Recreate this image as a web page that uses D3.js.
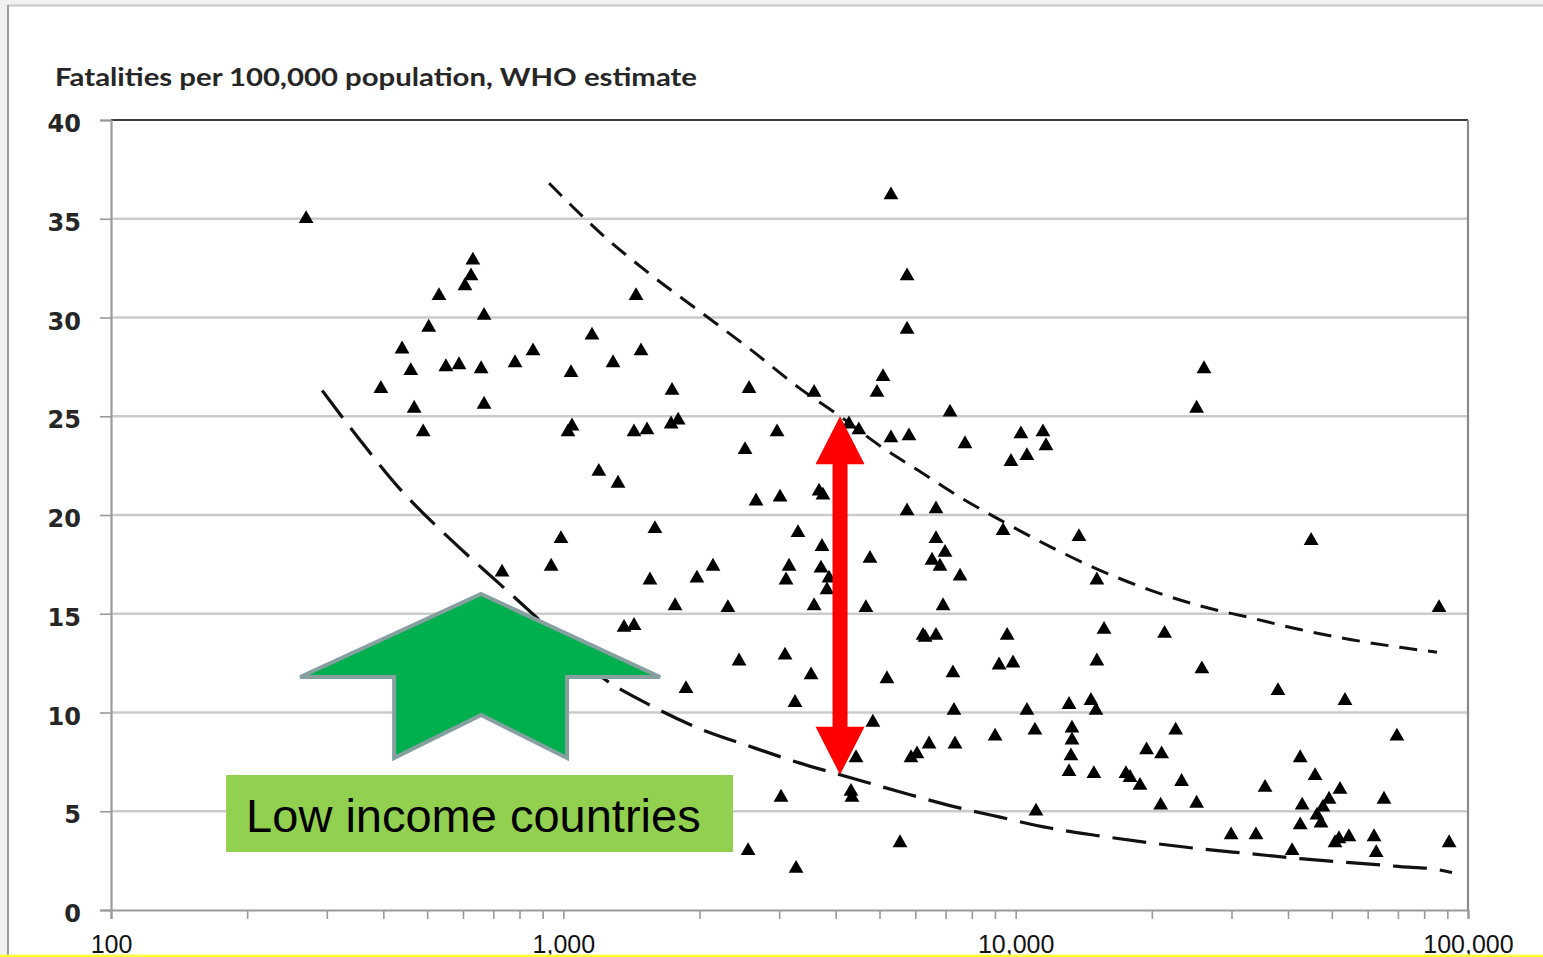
<!DOCTYPE html>
<html>
<head>
<meta charset="utf-8">
<script src="https://cdn.jsdelivr.net/npm/d3@7"></script>
<style>
  html, body { margin: 0; padding: 0; background: #ffffff; }
  svg { display: block; }
</style>
</head>
<body>
<svg id="chart" width="1543" height="957"></svg>
<script>
// GDP per capita (US$, log axis) and road fatalities per 100,000 population
const countryPoints = [
  [270,35.0],[395,26.4],[440,28.4],[460,27.3],[468,25.4],[490,24.2],[504,29.5],[531,31.1],
  [550,27.5],[588,27.6],[606,31.6],[625,32.1],[631,32.9],[658,27.4],[668,30.1],[668,25.6],
  [732,17.1],[782,27.7],[857,28.3],[940,17.4],[988,18.8],[1024,24.2],[1045,24.5],[1040,27.2],
  [1157,29.1],[1198,22.2],[1288,27.7],[1321,21.6],[1362,14.3],[1433,14.4],[1448,31.1],[1485,28.3],
  [1433,24.2],[1531,24.3],[1554,16.7],[1594,19.3],[1739,26.3],[1731,24.6],[1794,24.8],[1766,15.4],
  [1867,11.2],[1974,16.8],[2142,17.4],[2311,15.3],[2446,12.6],[2522,23.3],[2574,26.4],[2561,3.0],
  [2667,20.7],[2968,24.2],[3014,20.9],[3029,5.7],[3091,12.9],[3107,16.7],[3155,17.4],[3252,10.5],
  [3270,2.1],[3302,19.1],[3529,11.9],[3584,15.4],[3584,26.2],[3676,21.2],[3750,21.0],[3731,18.4],
  [3712,17.3],[3827,16.2],[3866,16.8],[4280,24.6],[4500,24.3],[4324,6.0],[4346,5.7],[4437,7.7],
  [4666,15.3],[4763,17.8],[4834,9.5],[4936,26.2],[5090,27.0],[5193,11.7],[5300,23.9],[5300,36.2],
  [5550,3.4],[5753,32.1],[5753,29.4],[5753,20.2],[5809,24.0],[5869,7.7],[6052,7.9],[6240,13.9],
  [6306,13.8],[6434,8.4],[6533,17.7],[6666,18.8],[6666,20.3],[6666,13.9],[6803,17.4],[6909,15.4],
  [6979,18.1],[7159,25.2],[7267,12.0],[7304,10.1],[7341,8.4],[7534,16.9],[7727,23.6],[9005,8.8],
  [9189,12.4],[9379,19.2],[9577,13.9],[9864,12.5],[9763,22.7],[10270,24.1],[10590,23.0],[10590,10.1],
  [11030,9.1],[11090,5.0],[11490,24.2],[11670,23.5],[13120,10.4],[13120,7.0],[13320,9.2],[13320,8.6],
  [13250,7.8],[13800,18.9],[14670,10.6],[14890,6.9],[15050,10.1],[15120,16.7],[15120,12.6],[15680,14.2],
  [17530,6.9],[17900,6.7],[18830,6.3],[19470,8.1],[20920,5.3],[21020,7.9],[21340,14.0],[22580,9.1],
  [23270,6.5],[25120,5.4],[25120,25.4],[25800,12.2],[26080,27.4],[29940,3.8],[33980,3.8],[35590,6.2],
  [38010,11.1],[40840,3.0],[42560,7.7],[42990,5.3],[42560,4.3],[45000,18.7],[45910,6.8],[46360,4.8],
  [47320,4.4],[47790,5.2],[49290,5.6],[50820,3.4],[51850,3.6],[52120,6.1],[53460,10.6],[54540,3.7],
  [61980,3.7],[62660,2.9],[65200,5.6],[69640,8.8],[86300,15.3],[90830,3.4]
];

// Upper and lower envelope curves (GDP per capita, fatalities)
const upperEnvelope = [
  [930,36.8],[1205,34.3],[1554,32.2],[2005,30.3],[2587,28.4],[3337,26.4],[4090,25.0],[5013,23.5],
  [6144,22.2],[7534,20.9],[9235,19.75],[11910,18.4],[15360,17.2],[19820,16.2],[25560,15.4],
  [32980,14.8],[42530,14.2],[54860,13.7],[70750,13.3],[85410,13.05]
];
const lowerEnvelope = [
  [293,26.3],[355,23.8],[436,21.3],[561,18.8],[724,16.5],[934,14.2],[1198,11.9],[1546,10.4],
  [1994,9.2],[2574,8.3],[3322,7.45],[4090,6.85],[5510,6.0],[7120,5.3],[9235,4.7],[11910,4.15],
  [15360,3.75],[19820,3.4],[25560,3.1],[32980,2.85],[42530,2.6],[54860,2.4],[70750,2.2],
  [85410,2.05],[92170,1.9]
];

// Axis ticks and labels
const yTicks = [0, 5, 10, 15, 20, 25, 30, 35, 40];
const xDecades = [100, 1000, 10000, 100000];
const xDecadeLabels = ["100", "1,000", "10,000", "100,000"];
const titleText = "Fatalities per 100,000 population, WHO estimate";

// Annotations: spread between the envelopes, and the low-income call-out
const spreadArrow = { gdp: 4090, top: 25.0, bottom: 6.85 };
const calloutAnchor = { gdp: 658, rate: 16.0 };
const calloutText = "Low income countries";

const svg = d3.select("#chart");
const W = 1543, H = 957;

// Slide frame
svg.append("rect").attr("x", 0).attr("y", 0).attr("width", W).attr("height", H).attr("fill", "#f1f1f1");
svg.append("rect").attr("x", 8).attr("y", 5).attr("width", W - 8).attr("height", H - 5).attr("fill", "#ffffff");
svg.append("line").attr("x1", 7).attr("x2", W).attr("y1", 5.5).attr("y2", 5.5).attr("stroke", "#c6c6c6").attr("stroke-width", 2);
svg.append("line").attr("x1", 8).attr("x2", 8).attr("y1", 5).attr("y2", H).attr("stroke", "#9a9a9a").attr("stroke-width", 2);

const x = d3.scaleLog().domain([100, 100000]).range([111, 1468]);
const y = d3.scaleLinear().domain([0, 40]).range([910, 120]);

// Gridlines
svg.append("g").selectAll("line").data(yTicks.filter(v => v > 0 && v < 40)).join("line")
  .attr("x1", x(100)).attr("x2", x(100000))
  .attr("y1", d => y(d)).attr("y2", d => y(d))
  .attr("stroke", "#cbcbcb").attr("stroke-width", 2.5);

// Plot frame: dark top edge, grey right edge
svg.append("line").attr("x1", x(100)).attr("x2", x(100000)).attr("y1", y(40)).attr("y2", y(40))
  .attr("stroke", "#3a3a3a").attr("stroke-width", 2.2);
svg.append("line").attr("x1", x(100000)).attr("x2", x(100000)).attr("y1", y(40)).attr("y2", y(0))
  .attr("stroke", "#8a8a8a").attr("stroke-width", 2.2);

// Y axis
const yAxis = svg.append("g").attr("transform", `translate(${x(100)},0)`)
  .call(d3.axisLeft(y).tickValues(yTicks).tickSize(11).tickPadding(19).tickFormat(d3.format("d")));
yAxis.select(".domain").attr("stroke", "#9a9a9a").attr("stroke-width", 2.2);
yAxis.selectAll(".tick line").attr("stroke", "#9a9a9a").attr("stroke-width", 1.6);
yAxis.selectAll(".tick text")
  .attr("font-family", "'DejaVu Sans', Verdana, sans-serif").attr("font-weight", "bold")
  .attr("font-size", 24).attr("dy", "0.48em").attr("fill", "#262626");

// X axis (log, minor ticks in each decade)
const xTickVals = [];
for (let dec = 100; dec < 100000; dec *= 10) for (let k = 1; k < 10; k++) xTickVals.push(dec * k);
xTickVals.push(100000);
const xAxis = svg.append("g").attr("transform", `translate(0,${y(0)})`)
  .call(d3.axisBottom(x).tickValues(xTickVals).tickSize(9)
    .tickFormat(d => { const i = xDecades.indexOf(d); return i >= 0 ? xDecadeLabels[i] : ""; }));
xAxis.select(".domain").attr("stroke", "#9a9a9a").attr("stroke-width", 2.2);
xAxis.selectAll(".tick line").attr("stroke", "#9a9a9a").attr("stroke-width", 1.6);
xAxis.selectAll(".tick text")
  .attr("font-family", "'Liberation Sans', Arial, sans-serif")
  .attr("font-size", 25).attr("fill", "#111")
  .attr("y", 43).attr("dy", null);

// Title
svg.append("text").attr("x", 55).attr("y", 86)
  .attr("font-family", "Lato, 'Open Sans', sans-serif").attr("font-weight", "bold")
  .attr("font-size", 25).attr("fill", "#262626")
  .attr("textLength", 642).attr("lengthAdjust", "spacingAndGlyphs")
  .text(titleText);

// Envelope curves
const line = d3.line().x(d => x(d[0])).y(d => y(d[1])).curve(d3.curveMonotoneX);
svg.append("path").datum(upperEnvelope).attr("d", line)
  .attr("fill", "none").attr("stroke", "#111").attr("stroke-width", 3)
  .attr("stroke-dasharray", "18,11");
svg.append("path").datum(lowerEnvelope).attr("d", line)
  .attr("fill", "none").attr("stroke", "#111").attr("stroke-width", 3.2)
  .attr("stroke-dasharray", "34,13");

// Country markers
svg.append("g").selectAll("path").data(countryPoints).join("path")
  .attr("transform", d => `translate(${x(d[0])},${y(d[1])})`)
  .attr("d", d3.symbol(d3.symbolTriangle, 95))
  .attr("fill", "#000");

// Double-headed red arrow between the envelopes
{
  const ax = x(spreadArrow.gdp), yt = y(spreadArrow.top), yb = y(spreadArrow.bottom);
  const hl = 48, hw = 24.5, sw = 7.5;
  const p = d3.path();
  p.moveTo(ax, yt);
  p.lineTo(ax + hw, yt + hl); p.lineTo(ax + sw, yt + hl);
  p.lineTo(ax + sw, yb - hl); p.lineTo(ax + hw, yb - hl);
  p.lineTo(ax, yb);
  p.lineTo(ax - hw, yb - hl); p.lineTo(ax - sw, yb - hl);
  p.lineTo(ax - sw, yt + hl); p.lineTo(ax - hw, yt + hl);
  p.closePath();
  svg.append("path").attr("d", p.toString()).attr("fill", "#ff0000");
}

// Green call-out arrow and label
{
  const tx = x(calloutAnchor.gdp), ty = y(calloutAnchor.rate);
  const shape = [[0,0],[179,83],[86,83],[86,164],[0,121],[-87,164],[-87,83],[-181,83]];
  svg.append("polygon")
    .attr("points", shape.map(([dx, dy]) => `${tx + dx},${ty + dy}`).join(" "))
    .attr("fill", "#00af4d").attr("stroke", "#86a0a0").attr("stroke-width", 4)
    .attr("stroke-linejoin", "miter");
  svg.append("rect").attr("x", tx - 255).attr("y", ty + 181).attr("width", 507).attr("height", 77)
    .attr("fill", "#92d050");
  svg.append("text").attr("x", tx - 235).attr("y", ty + 238)
    .attr("font-family", "'Liberation Sans', Arial, sans-serif").attr("font-size", 47)
    .attr("fill", "#000").text(calloutText);
}

// Yellow strip along the bottom edge
svg.append("rect").attr("x", 0).attr("y", 954.5).attr("width", W).attr("height", 2.5).attr("fill", "#ffff3c");
</script>
</body>
</html>
